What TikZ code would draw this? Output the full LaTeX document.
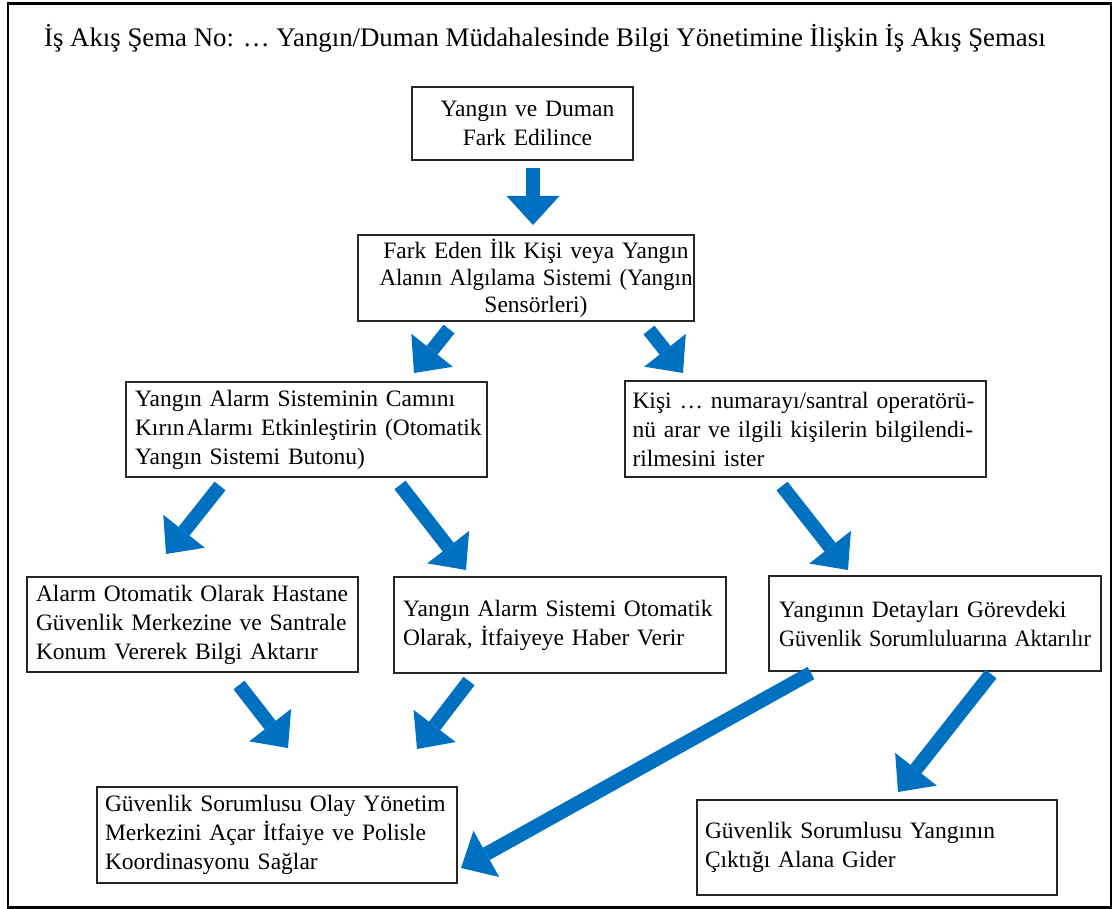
\documentclass[tikz,border=0pt]{standalone}
\usepackage{fontspec}
\usepackage{graphicx}
\setmainfont{Liberation Serif}
\usetikzlibrary{arrows.meta}
\definecolor{flowblue}{HTML}{0070C0}
\begin{document}
\begin{tikzpicture}[x=1pt,y=-1pt,
  txt/.style={font=\fontsize{23.5pt}{29pt}\selectfont},
  box/.style={txt, draw=black!85, line width=1.1pt, inner ysep=0pt, anchor=center},
  flow/.style={draw=flowblue, line width=14pt, line cap=butt,
    -{Triangle[width=53pt,length=29pt,line width=0pt,fill=flowblue]}}]
\useasboundingbox (0,0) rectangle (1114,909);
% outer frame
\node[draw=black, line width=2.8pt, inner sep=0pt, minimum width=1103pt, minimum height=904pt, anchor=north west] (frame) at (6.5,2) {};
% title
\node[font=\fontsize{26.8pt}{32pt}\selectfont, anchor=base west, inner sep=0pt] (title) at (44,47)
  {İş Akış Şema No: … Yangın/Duman Müdahalesinde Bilgi Yönetimine İlişkin İş Akış Şeması};
% boxes
\node[box, align=center, text width=205pt, inner xsep=8pt, minimum width=221pt, minimum height=73pt] (b1) at (522.5,123.5)
  {\makebox[205pt]{\hspace{10pt}Yangın ve Duman}\\\makebox[205pt]{\hspace{10pt}Fark Edilince}};
\node[box, align=center, text width=318pt, inner xsep=9pt, minimum width=336pt, minimum height=86pt,
  font=\fontsize{23.5pt}{27pt}\selectfont] (b2) at (526,278)
  {\makebox[318pt]{\hspace{20pt}\resizebox{305pt}{\height}{Fark Eden İlk Kişi veya Yangın}}\\
   \makebox[318pt]{\hspace{20pt}\resizebox{313pt}{\height}{Alanın Algılama Sistemi (Yangın}}\\
   \makebox[318pt]{\hspace{20pt}Sensörleri)}};
\node[box, align=left, text width=343pt, inner xsep=9pt, minimum width=361pt, minimum height=95pt] (b3) at (306.5,429.5)
  {\mbox{Yangın Alarm Sisteminin Camını}\\\makebox[343pt][s]{Kırın\hspace{2pt}Alarmı Etkinleştirin (Otomatik}\\\mbox{Yangın Sistemi Butonu)}};
\node[box, align=left, text width=346pt, inner xsep=7.5pt, minimum width=361pt, minimum height=96pt] (b4) at (805.5,429)
  {\makebox[346pt][s]{Kişi … numarayı/santral operatörü-}\\\makebox[346pt][s]{nü arar ve ilgili kişilerin bilgilendi-}\\\mbox{rilmesini ister}};
\node[box, align=left, text width=313pt, inner xsep=9pt, minimum width=331pt, minimum height=95pt] (b5) at (192.5,624.5)
  {\mbox{Alarm Otomatik Olarak Hastane}\\\mbox{Güvenlik Merkezine ve Santrale}\\\mbox{Konum Vererek Bilgi Aktarır}};
\node[box, align=left, text width=314pt, inner xsep=9pt, minimum width=332pt, minimum height=96pt] (b6) at (560,625)
  {\mbox{Yangın Alarm Sistemi Otomatik}\\\mbox{Olarak, İtfaiyeye Haber Verir}};
\node[box, align=left, text width=312pt, inner xsep=10pt, minimum width=332pt, minimum height=95pt] (b7) at (935,623.5)
  {\mbox{Yangının Detayları Görevdeki}\\\resizebox{312pt}{\height}{Güvenlik Sorumluluarına Aktarılır}};
\node[box, align=left, text width=344pt, inner xsep=8pt, minimum width=360pt, minimum height=96pt] (b8) at (277,835)
  {\mbox{Güvenlik Sorumlusu Olay Yönetim}\\\mbox{Merkezini Açar İtfaiye ve Polisle}\\\mbox{Koordinasyonu Sağlar}};
\node[box, align=left, text width=344pt, inner xsep=8pt, minimum width=360pt, minimum height=95pt] (b9) at (877,847.5)
  {\mbox{Güvenlik Sorumlusu Yangının}\\\mbox{Çıktığı Alana Gider}};
% arrow end points
\coordinate (a1s) at (533,168);  \coordinate (a1e) at (533,225);
\coordinate (a2s) at (449,329);  \coordinate (a2e) at (414,373);
\coordinate (a3s) at (649,330);  \coordinate (a3e) at (683,373);
\coordinate (a4s) at (220,486);  \coordinate (a4e) at (166,554);
\coordinate (a5s) at (400,485);  \coordinate (a5e) at (466,570);
\coordinate (a6s) at (782,486);  \coordinate (a6e) at (848,570);
\coordinate (a7s) at (239,685);  \coordinate (a7e) at (288,748);
\coordinate (a8s) at (469,681);  \coordinate (a8e) at (417,749);
\coordinate (a9s) at (811,673);  \coordinate (a9e) at (461,868);
\coordinate (a10s) at (991,674); \coordinate (a10e) at (898,792);
\foreach \k in {1,...,10} {\draw[flow] (a\k s) -- (a\k e);}
\end{tikzpicture}
\end{document}
